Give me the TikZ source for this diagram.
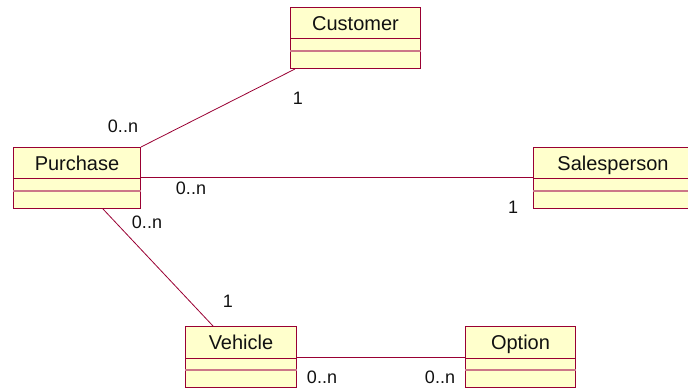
\documentclass[tikz,border=0pt]{standalone}
\usepackage{fontspec}
\setmainfont{Liberation Sans}
\usepackage{xcolor}
\usepackage{tikz}
\definecolor{umlred}{HTML}{990033}
\definecolor{umlfill}{HTML}{FFFFCC}
\definecolor{umlsep}{HTML}{CC7788}
\definecolor{darktext}{HTML}{111111}

\begin{document}
\begin{tikzpicture}[x=0.75pt, y=-0.75pt,
    classbox/.style={draw=umlred, fill=umlfill, line width=0.75pt, anchor=north west, inner sep=0pt, minimum height=45.75pt},
    classname/.style={font=\fontsize{15}{17}\selectfont, text=darktext, anchor=center, text height=11pt, text depth=3pt, yshift=-13.5pt},
    mult/.style={font=\fontsize{13.5}{15}\selectfont, text=darktext, inner sep=0pt},
    assoc/.style={draw=umlred, line width=0.6pt}]
        \useasboundingbox (0,0) rectangle (688,388);
        % Classes
        \node[classbox, minimum width=97.5pt, label={[classname]north:Customer}] (cust) at (290,7) {};
        \node[classbox, minimum width=95.25pt, label={[classname]north:Purchase}] (purch) at (13,147) {};
        \node[classbox, minimum width=119.25pt, label={[classname]north:Salesperson}] (sales) at (533,147) {};
        \node[classbox, minimum width=83.25pt, label={[classname]north:Vehicle}] (veh) at (185,326) {};
        \node[classbox, minimum width=82.5pt, label={[classname]north:Option}] (opt) at (465,326) {};
        % Compartments
        \foreach \c in {cust,purch,sales,veh,opt} {
            \draw[umlred, line width=0.75pt] ([yshift=-24pt]\c.north west) -- ([yshift=-24pt]\c.north east);
            \draw[umlsep, line width=1.1pt] ([yshift=-33pt]\c.north west) -- ([yshift=-33pt]\c.north east);
        }
        % Associations
        \draw[assoc] ([xshift=3.75pt]cust.south west) -- (purch.north east);
        \draw[assoc] ([yshift=-22.5pt]purch.north east) -- ([yshift=-22.5pt]sales.north west);
        \draw[assoc] ([xshift=67.5pt]purch.south west) -- ([xshift=21pt]veh.north west);
        \draw[assoc] ([yshift=-23.25pt]veh.north east) -- ([yshift=-23.25pt]opt.north west);
        % Multiplicities
        \node[mult] (mcust) at (298,98) {1};
        \node[mult] (mpurcha) at (123,126) {0..n};
        \node[mult] (mpurchb) at (191,188) {0..n};
        \node[mult] (msales) at (513,207) {1};
        \node[mult] (mpurchc) at (147,222) {0..n};
        \node[mult] (mveha) at (228,301) {1};
        \node[mult] (mvehb) at (322,377) {0..n};
        \node[mult] (mopt) at (440,377) {0..n};
    \end{tikzpicture}
\end{document}
